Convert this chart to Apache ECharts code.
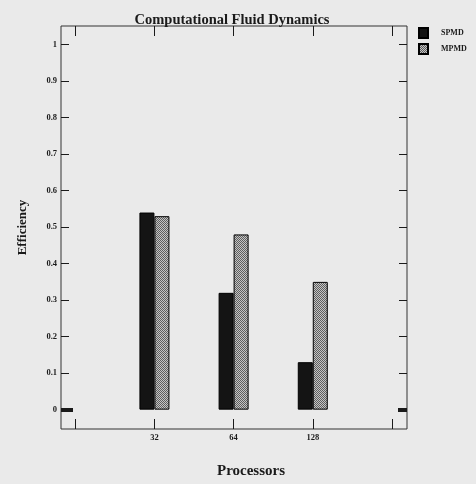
<!DOCTYPE html>
<html>
<head>
<meta charset="UTF-8">
<title>Computational Fluid Dynamics</title>
<script src="https://cdn.jsdelivr.net/npm/echarts@6/dist/echarts.min.js"></script>
<style>
    html, body { margin: 0; padding: 0; background: #eaeaea; }
    #chart { width: 476px; height: 484px; }
</style>
</head>
<body>
<div id="chart"></div>
<script>
    var categories = ['32', '64', '128'];
    var spmd = [0.54, 0.32, 0.13];
    var mpmd = [0.53, 0.48, 0.35];
    var yTicks = [0, 0.1, 0.2, 0.3, 0.4, 0.5, 0.6, 0.7, 0.8, 0.9, 1];
    var xTicks = [0, 1, 2, 3, 4];

    var font = 'Liberation Serif';
    var ink = '#1a1a1a';

    // checkered fill for MPMD
    function checker() {
        var c = document.createElement('canvas');
        c.width = 2; c.height = 2;
        var g = c.getContext('2d');
        g.fillStyle = '#c4c4c4'; g.fillRect(0, 0, 2, 2);
        g.fillStyle = '#5e5e5e';
        g.fillRect(0, 0, 1, 1); g.fillRect(1, 1, 1, 1);
        return c;
    }
    var pattern = { image: checker(), repeat: 'repeat' };

    function pairs(arr) {
        return arr.map(function (v, i) { return [i + 1, v]; });
    }

    var yMin = -0.053, yMax = 1.051;
    var xMin = -0.18, xMax = 4.19;

    function yAx(pos, opts) {
        return Object.assign({
            type: 'value', position: pos, min: yMin, max: yMax,
            splitLine: { show: false }, axisLine: { show: false, onZero: false },
            axisLabel: { show: false },
            axisTick: { show: true, inside: true, length: 8, customValues: yTicks,
                lineStyle: { color: ink, width: 1 } }
        }, opts || {});
    }

    var chart = echarts.init(document.getElementById('chart'));
    chart.setOption({
        backgroundColor: '#eaeaea',
        animation: false,
        title: {
            text: 'Computational Fluid Dynamics',
            left: 227, top: 8, textAlign: 'center',
            textStyle: { fontFamily: font, fontWeight: 'bold', fontSize: 14.5, color: ink }
        },
        legend: {
            orient: 'vertical', left: 418, top: 27, padding: 0,
            itemWidth: 9, itemHeight: 10, itemGap: 4,
            icon: 'rect',
            textStyle: { fontFamily: font, fontWeight: 'bold', fontSize: 8, color: ink, padding: [0, 0, 0, 8] },
            data: ['SPMD', 'MPMD']
        },
        grid: {
            left: 61, right: 69, top: 26, bottom: 49,
            show: true, borderColor: '#333', borderWidth: 1, backgroundColor: 'transparent'
        },
        xAxis: [{
            type: 'value', position: 'bottom', min: xMin, max: xMax,
            splitLine: { show: false }, axisLine: { show: false, onZero: false },
            axisTick: { show: true, inside: true, length: 10, customValues: xTicks,
                lineStyle: { color: ink } },
            axisLabel: {
                customValues: [1, 2, 3], margin: 4,
                fontFamily: font, fontWeight: 'bold', fontSize: 8.5, color: ink,
                formatter: function (v) { return categories[Math.round(v) - 1] || ''; }
            },
            name: 'Processors', nameLocation: 'middle', nameGap: 35,
            nameTextStyle: { fontFamily: font, fontWeight: 'bold', fontSize: 15, color: ink, padding: [0, 0, 0, 34] }
        }, {
            type: 'value', position: 'top', min: xMin, max: xMax,
            splitLine: { show: false }, axisLine: { show: false, onZero: false },
            axisTick: { show: true, inside: true, length: 10, customValues: xTicks,
                lineStyle: { color: ink } },
            axisLabel: { show: false }
        }],
        yAxis: [
            yAx('left', {
                axisLabel: {
                    show: true, customValues: yTicks, margin: 4,
                    fontFamily: font, fontWeight: 'bold', fontSize: 8.5, color: ink
                },
                name: 'Efficiency', nameLocation: 'middle', nameGap: 32, nameRotate: 90,
                nameTextStyle: { fontFamily: font, fontWeight: 'bold', fontSize: 13, color: ink }
            }),
            yAx('right'),
            yAx('left', { axisTick: { show: true, inside: true, length: 12, customValues: [0],
                lineStyle: { color: ink, width: 4 } } }),
            yAx('right', { axisTick: { show: true, inside: true, length: 9, customValues: [0],
                lineStyle: { color: ink, width: 4 } } })
        ],
        series: [{
            name: 'SPMD', type: 'bar', barWidth: 15, barGap: '0%',
            itemStyle: { color: '#141414', borderColor: '#000', borderWidth: 1 },
            data: pairs(spmd)
        }, {
            name: 'MPMD', type: 'bar', barWidth: 15, barGap: '0%',
            itemStyle: { color: pattern, borderColor: '#000', borderWidth: 1 },
            data: pairs(mpmd)
        }]
    });
</script>
</body>
</html>
